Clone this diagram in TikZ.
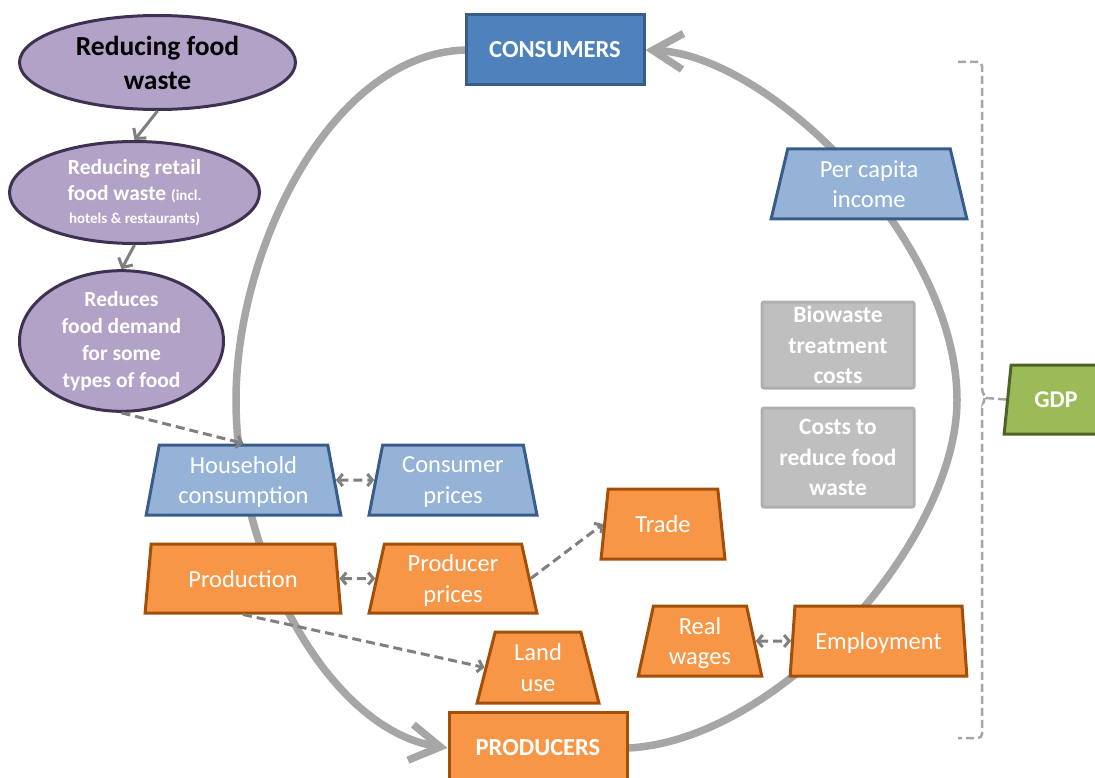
\documentclass[tikz,border=0pt]{standalone}
\usepackage{fontspec}
\setmainfont{Carlito}
\usetikzlibrary{shapes.geometric,arrows.meta,backgrounds}
\definecolor{lblue}{HTML}{95B3D7}
\definecolor{dblue}{HTML}{385D8A}
\definecolor{mblue}{HTML}{4F81BD}
\definecolor{orfill}{HTML}{F79646}
\definecolor{orline}{HTML}{A24F0A}
\definecolor{purp}{HTML}{B3A2C7}
\definecolor{dpurp}{HTML}{3F3151}
\definecolor{gfill}{HTML}{9BBB59}
\definecolor{gline}{HTML}{4F6228}
\definecolor{arcgray}{HTML}{A6A6A6}
\definecolor{dgray}{HTML}{7F7F7F}
\definecolor{boxgray}{HTML}{BFBFBF}
\definecolor{boxline}{HTML}{AFAFAF}
\newcommand\fsz[2]{\fontsize{#1}{#2}\selectfont}
\begin{document}
\begin{tikzpicture}[x=1pt,y=-1pt,
  trap/.style={trapezium, trapezium stretches=true, trapezium left angle=78,
    trapezium right angle=78, line width=3pt, inner sep=0pt, align=center,
    text=white, text depth=0pt, font=\fsz{24.5}{30.5}},
  bluetrap/.style={trap, fill=lblue, draw=dblue},
  ortrap/.style={trap, fill=orfill, draw=orline},
  greentrap/.style={trap, fill=gfill, draw=gline, font=\bfseries\fsz{24}{30}},
  ell/.style={ellipse, fill=purp, draw=dpurp, line width=3pt, inner sep=0pt, align=center},
  bigbox/.style={rectangle, line width=3pt, inner sep=0pt, text=white,
    font=\bfseries\fsz{24.5}{28}},
  gbox/.style={rectangle, rounded corners=2pt, fill=boxgray, draw=boxline,
    line width=3pt, text=white, font=\bfseries\fsz{23.5}{30.5}, align=center, inner sep=0pt},
  cyc/.style={line width=7.5pt, draw=arcgray, line cap=round,
    -{Straight Barb[length=30pt,width=36pt]}},
  dsh/.style={draw=dgray, line width=3pt, dash pattern=on 9pt off 5pt},
  dtip/.style={-{Straight Barb[length=5pt,width=12pt]}},
  ddtip/.style={{Straight Barb[length=5pt,width=12pt]}-{Straight Barb[length=5pt,width=12pt]}},
  small/.style={draw=dgray, line width=3pt, -{Straight Barb[length=7pt,width=16pt]}},
  brace/.style={draw=arcgray, line width=2.5pt, dash pattern=on 8pt off 4pt}
]
\useasboundingbox (0,0) rectangle (1095,778);

% ellipses
\node[ell, minimum width=276pt, minimum height=94pt, font=\bfseries\fsz{27.5}{34}] (e1) at (157.5,62.5) {Reducing food\\waste};
\node[ell, minimum width=250pt, minimum height=102pt, text=white, font=\bfseries\fsz{21.5}{26}] (e2) at (134.5,192.5)
  {Reducing retail\\food waste {\fsz{15}{18}(incl.}\\[-3pt]{\fsz{15}{18}hotels \& restaurants)}};
\node[ell, minimum width=204pt, minimum height=131pt, text=white, font=\bfseries\fsz{21.5}{27}] (e3) at (121.5,341)
  {Reduces\\food demand\\for some\\types of food};

% main boxes
\node[bigbox, fill=mblue, draw=dblue, minimum width=178pt, minimum height=70pt] (cons) at (555,50) {CONSUMERS};
\node[bigbox, fill=orfill, draw=orline, minimum width=178pt, minimum height=72pt] (prod) at (538,748) {PRODUCERS};

% trapezia
\node[bluetrap, minimum width=195pt, minimum height=70pt] (hh) at (243.5,480) {Household\\consumption};
\node[bluetrap, minimum width=168pt, minimum height=70pt] (cp) at (453,480) {Consumer\\prices};
\node[ortrap, minimum width=196pt, minimum height=69pt] (pn) at (243,578.5) {Production};
\node[ortrap, minimum width=168pt, minimum height=69pt] (pp) at (453,578.5) {Producer\\prices};
\node[ortrap, minimum width=124pt, minimum height=70pt] (tr) at (663,524) {Trade};
\node[ortrap, minimum width=122pt, minimum height=71pt] (lu) at (538,667.5) {Land\\use};
\node[ortrap, minimum width=124pt, minimum height=70pt] (rw) at (700,641) {Real\\wages};
\node[ortrap, minimum width=177pt, minimum height=70pt] (em) at (878.5,641) {Employment};
\node[bluetrap, minimum width=196pt, minimum height=70pt] (pc) at (869,184) {Per capita\\income};
\node[greentrap, minimum width=104pt, minimum height=69pt] (gdp) at (1056,399.5) {GDP};

% gray boxes
\node[gbox, minimum width=152pt, minimum height=86pt] (bio) at (838,345) {Biowaste\\treatment\\costs};
\node[gbox, minimum width=152pt, minimum height=99pt] (crf) at (838,457.5) {Costs to\\reduce food\\waste};

% cycle arcs (behind)
\begin{pgfonlayer}{background}
\coordinate (lmid) at (236,400);
\coordinate (rmid) at (957,400);
\draw[cyc] (cons.west) .. controls (330,55) and (236,250) .. (lmid)
  .. controls (236,560) and (330,730) .. (prod.west);
\draw[cyc] (prod.east) .. controls (780,740) and (957,540) .. (rmid)
  .. controls (957,240) and (770,55) .. (cons.east);
\end{pgfonlayer}

% small solid arrows
\draw[small] (e1.south) -- (e2.north);
\draw[small] (e2.south) -- (e3.north);

% dashed connectors
\draw[dsh, dtip] (e3.south) -- (hh.north);
\draw[dsh, ddtip] (hh.east) -- (cp.west);
\draw[dsh, ddtip] (pn.east) -- (pp.west);
\draw[dsh, ddtip] (rw.east) -- (em.west);
\draw[dsh, dtip] (pp.east) -- (tr.west);
\draw[dsh, dtip] (pn.south) -- (lu.west);

% brace to GDP
\draw[brace, rounded corners=4pt] (958,62) -- (982,62) -- (982,392) -- (986,398) -- (982,404) -- (982,738) -- (958,738);
\coordinate (nub) at (986,398);
\draw[brace] (nub) -- (gdp.west);
\end{tikzpicture}
\end{document}
